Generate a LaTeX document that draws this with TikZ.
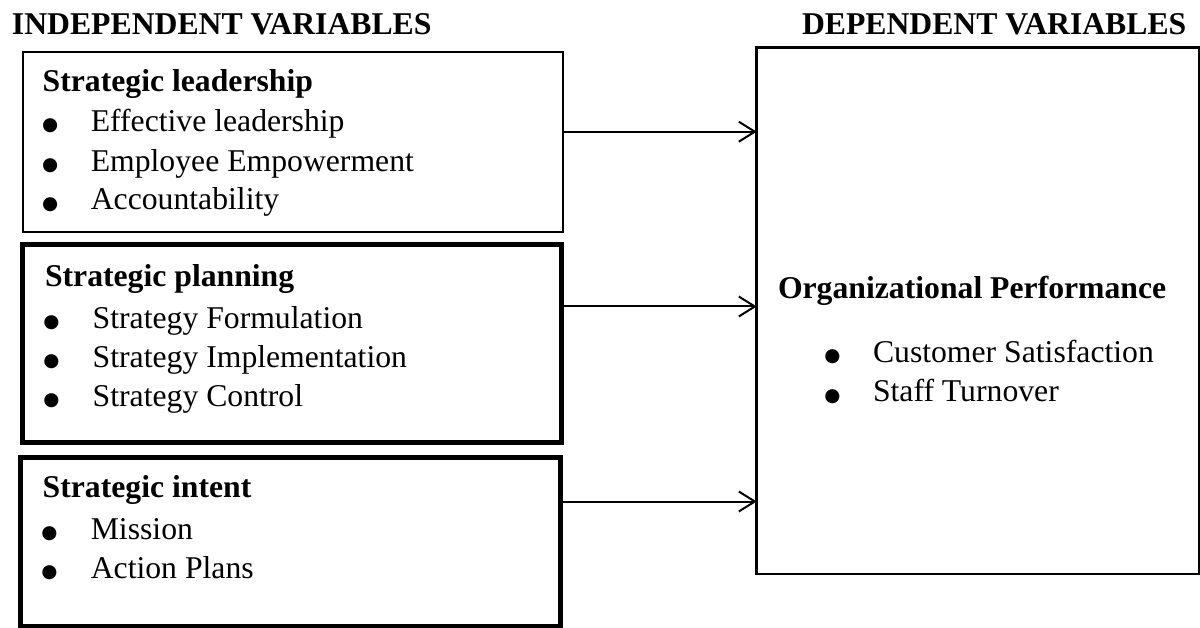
\documentclass[tikz,border=0pt]{standalone}
\usepackage{fontspec}
\setmainfont{Liberation Serif}
\newfontfamily\symf{DejaVu Sans}
\usetikzlibrary{arrows.meta}
\begin{document}
\begin{tikzpicture}[x=1pt,y=-1pt,
  txt/.style={anchor=base west,inner sep=0pt,outer sep=0pt,font=\fontsize{31.7}{38}\selectfont},
  hd/.style={anchor=base west,inner sep=0pt,outer sep=0pt,font=\fontsize{31.7}{38}\selectfont\bfseries},
  bul/.style={anchor=base,inner sep=0pt,outer sep=0pt,font=\symf\fontsize{18.5}{18.5}\selectfont},
  thinbox/.style={draw,line width=2pt,inner sep=0pt,outer sep=0pt,anchor=north west},
  thickbox/.style={draw,line width=5pt,inner sep=0pt,outer sep=0pt,anchor=north west},
  rbox/.style={draw,line width=2.8pt,inner sep=0pt,outer sep=0pt,anchor=north west},
  arr/.style={line width=2pt,-{Straight Barb[length=16pt,width=20pt,line width=2pt]}}
]
\useasboundingbox (0,0) rectangle (1200,628);

% headers
\node[hd] (hin) at (12,35) {INDEPENDENT VARIABLES};
\node[hd] (hdep) at (802,35) {DEPENDENT VARIABLES};

% boxes
\node[thinbox,minimum width=539.7pt,minimum height=180.7pt] (b1) at (22.8,51.8) {};
\node[thickbox,minimum width=539.3pt,minimum height=197.8pt] (b2) at (22.5,244.7) {};
\node[thickbox,minimum width=539.7pt,minimum height=168.5pt] (b3) at (20.8,457.5) {};
\node[rbox,minimum width=442.3pt,minimum height=526.3pt] (dv) at (756.7,47.7) {};

% box 1
\node[hd] (t1) at (42.7,92) {Strategic leadership};
\node[bul] (p11) at (50.3,131) {●};
\node[txt] (i11) at (90.8,131.7) {Effective leadership};
\node[bul] (p12) at (50.3,170.8) {●};
\node[txt] (i12) at (90.8,171.5) {Employee Empowerment};
\node[bul] (p13) at (50.3,209.3) {●};
\node[txt] (i13) at (90.8,210) {Accountability};

% box 2
\node[hd] (t2) at (45,286.7) {Strategic planning};
\node[bul] (p21) at (51.5,327.6) {●};
\node[txt] (i21) at (92.7,328.3) {Strategy Formulation};
\node[bul] (p22) at (51.5,366.6) {●};
\node[txt] (i22) at (92.7,367.3) {Strategy Implementation};
\node[bul] (p23) at (51.5,406) {●};
\node[txt] (i23) at (92.7,406.7) {Strategy Control};

% box 3
\node[hd] (t3) at (42.7,497.5) {Strategic intent};
\node[bul] (p31) at (49.5,538.3) {●};
\node[txt] (i31) at (90.8,539) {Mission};
\node[bul] (p32) at (49.5,577.8) {●};
\node[txt] (i32) at (90.8,578.5) {Action Plans};

% dependent box
\node[hd] (td) at (778,299) {Organizational Performance};
\node[bul] (pd1) at (832.5,362) {●};
\node[txt] (id1) at (873,362.7) {Customer Satisfaction};
\node[bul] (pd2) at (832.5,401.3) {●};
\node[txt] (id2) at (873,402) {Staff Turnover};

% arrows
\coordinate (y1) at (0,131.7);
\coordinate (y2) at (0,306.5);
\coordinate (y3) at (0,501.5);
\draw[arr] (b1.east |- y1) -- (dv.west |- y1);
\draw[arr] (b2.east |- y2) -- (dv.west |- y2);
\draw[arr] (b3.east |- y3) -- (dv.west |- y3);
\end{tikzpicture}
\end{document}
